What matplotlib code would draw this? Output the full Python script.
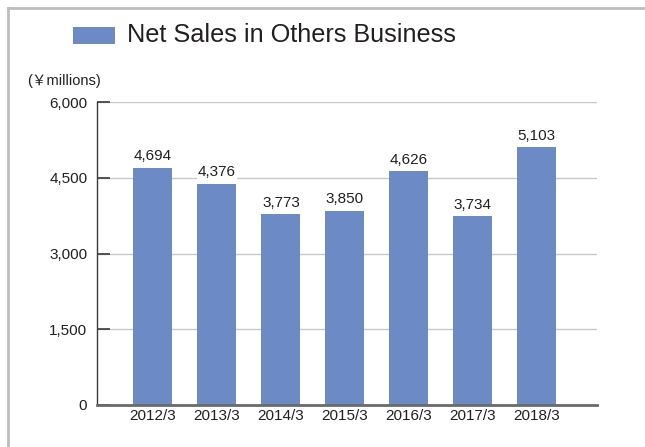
import matplotlib
matplotlib.use("Agg")
import matplotlib.pyplot as plt
from matplotlib.lines import Line2D
from matplotlib.patches import Rectangle

plt.rcParams["font.family"] = ["Liberation Sans", "Noto Sans CJK JP", "DejaVu Sans"]

# net sales, others business (yen millions)
years = ["2012/3", "2013/3", "2014/3", "2015/3", "2016/3", "2017/3", "2018/3"]
sales = [4694, 4376, 3773, 3850, 4626, 3734, 5103]
yticks = [0, 1500, 3000, 4500, 6000]

bar_color = "#6C8AC6"
text_color = "#231F20"

fig = plt.figure(figsize=(6.45, 4.47), dpi=100)
ax = fig.add_axes([97 / 645, 42 / 447, 500 / 645, 303 / 447])

x = range(len(years))
bars = ax.bar(x, sales, width=0.61, color=bar_color, zorder=2)

for xi, v in zip(x, sales):
    ax.text(xi, v + 90, f"{v:,}", ha="center", va="bottom", fontsize=11,
            color=text_color, zorder=3,
            bbox=dict(facecolor="white", edgecolor="none", pad=1.0))

ax.set_xlim(-0.875, 6.94)
ax.set_ylim(0, 6000)
ax.set_xticks(list(x))
ax.set_xticklabels(years)
ax.set_yticks(yticks)
ax.set_yticklabels([f"{t:,}" for t in yticks])
ax.tick_params(axis="y", direction="in", length=9, width=1.2, color="#3a3a3a",
               pad=7, labelsize=11, labelcolor=text_color)
ax.tick_params(axis="x", length=0, pad=3, labelsize=11, labelcolor=text_color)

ax.grid(axis="y", color="#C8C8C8", linewidth=1.0, zorder=0)
ax.set_axisbelow(True)
for side in ("top", "right"):
    ax.spines[side].set_visible(False)
ax.spines["left"].set_color("#3a3a3a")
ax.spines["left"].set_linewidth(1.0)
ax.spines["bottom"].set_color("#6a6a6a")
ax.spines["bottom"].set_linewidth(2.0)

# header: colour key + title
fig.add_artist(Rectangle((73 / 645, 1 - 44 / 447), 42 / 645, 17 / 447,
                         transform=fig.transFigure, facecolor=bar_color,
                         edgecolor="none"))
fig.text(127 / 645, 1 - 35 / 447, "Net Sales in Others Business",
         fontsize=18.2, color=text_color, va="center", ha="left")
fig.text(27 / 645, 1 - 81 / 447, "(\uffe5millions)", fontsize=10.5,
         color=text_color, va="center", ha="left")

# frame lines along the top and left edges
fig.add_artist(Line2D([8 / 645, 1], [1 - 8 / 447, 1 - 8 / 447],
                      transform=fig.transFigure, color="#BDBDBD", linewidth=2))
fig.add_artist(Line2D([8 / 645, 8 / 645], [0, 1 - 8 / 447],
                      transform=fig.transFigure, color="#BDBDBD", linewidth=2))

fig.savefig("out.png", dpi=100)
